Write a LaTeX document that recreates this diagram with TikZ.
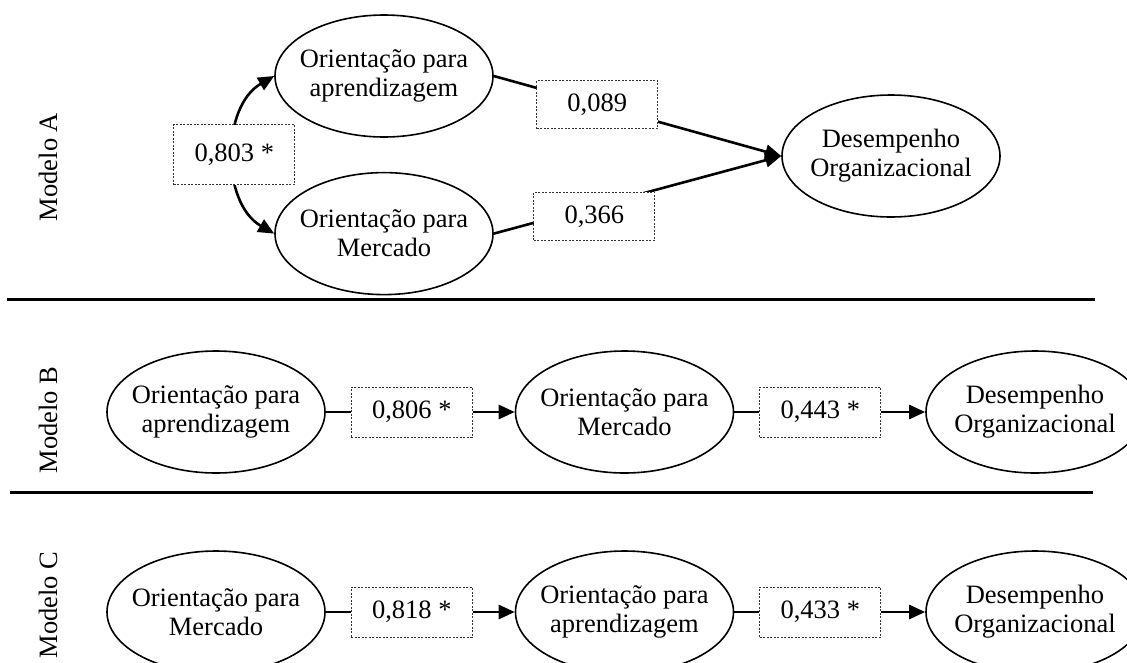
\documentclass[tikz,border=0pt]{standalone}
\usepackage{fontspec}
\setmainfont{Liberation Serif}
\usetikzlibrary{arrows.meta, positioning, shapes.geometric}

\begin{document}
\begin{tikzpicture}[x=1pt, y=-1pt, >={Triangle[length=16pt,width=14pt]},
  font=\fontsize{26.5}{29}\selectfont,
  var/.style={ellipse, draw, line width=1.6pt, align=center, inner xsep=-8pt, inner ysep=0pt,
    minimum width=218pt, minimum height=122pt},
  coef/.style={draw=black!80, fill=white, line width=0.9pt, dash pattern=on 2pt off 1.5pt,
    minimum width=121pt, minimum height=50pt, inner sep=2pt},
  seta/.style={line width=2.6pt},
  modelo/.style={rotate=90}]
\useasboundingbox (0,0) rectangle (1127,662);

% Modelo A
\node[modelo] (ma) at (48,167) {Modelo A};
\node[var] (oa1) at (384,76) {Orientação para\\aprendizagem};
\node[var, below=34pt of oa1] (om1) {Orientação para\\Mercado};
\node[var] (d1) at (891,156) {Desempenho\\Organizacional};
\draw[seta, <->] (oa1.west) to[bend right=60] node[coef, minimum height=60pt] {0,803 *} (om1.west);
\draw[seta, ->] (oa1.east) -- node[coef, pos=0.36, minimum height=48pt] {0,089} (d1.west);
\draw[seta, ->] (om1.east) -- node[coef, pos=0.35, yshift=-10pt, minimum height=48pt] {0,366} (d1.west);

% Separadores
\coordinate (s1a) at (7,299);
\coordinate (s1b) at (1095,299);
\coordinate (s2a) at (10,492);
\coordinate (s2b) at (1093,492);
\draw[line width=3pt] (s1a) -- (s1b);
\draw[line width=3pt] (s2a) -- (s2b);

% Modelo B
\node[modelo] (mb) at (48,420) {Modelo B};
\node[var] (ob1) at (216,412) {Orientação para\\aprendizagem};
\node[coef, right=25pt of ob1] (cb1) {0,806 *};
\node[var, right=42pt of cb1] (ob2) {Orientação para\\Mercado};
\node[coef, right=25pt of ob2] (cb2) {0,443 *};
\node[var, right=44pt of cb2] (db) {Desempenho\\Organizacional};
\draw[seta] (ob1) -- (cb1);
\draw[seta, ->] (cb1) -- (ob2);
\draw[seta] (ob2) -- (cb2);
\draw[seta, ->] (cb2) -- (db);

% Modelo C
\node[modelo] (mc) at (48,605) {Modelo C};
\node[var] (oc1) at (216,612) {Orientação para\\Mercado};
\node[coef, right=25pt of oc1] (cc1) {0,818 *};
\node[var, right=42pt of cc1] (oc2) {Orientação para\\aprendizagem};
\node[coef, right=25pt of oc2] (cc2) {0,433 *};
\node[var, right=44pt of cc2] (dc) {Desempenho\\Organizacional};
\draw[seta] (oc1) -- (cc1);
\draw[seta, ->] (cc1) -- (oc2);
\draw[seta] (oc2) -- (cc2);
\draw[seta, ->] (cc2) -- (dc);
\end{tikzpicture}
\end{document}
